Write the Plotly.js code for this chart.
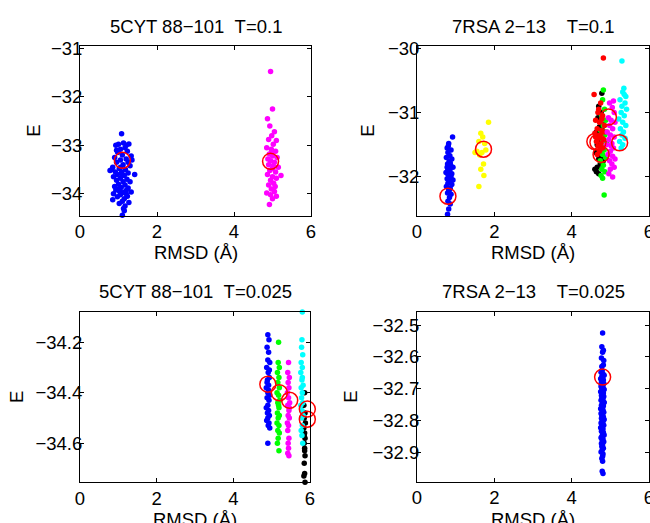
<!DOCTYPE html>
<html>
<head>
<meta charset="utf-8">
<script src="https://cdn.plot.ly/plotly-3.0.1.min.js"></script>
<style>html,body{margin:0;padding:0;background:#fff;}#chart{width:650px;height:523px;}</style>
</head>
<body>
<div id="chart"></div>
<script>
// ---------- data (RMSD, E) pairs ----------
const titles = ["5CYT 88\u2212101\u00A0\u00A0T=0.1", "7RSA 2\u221213\u00A0\u00A0\u00A0\u00A0T=0.1",
                "5CYT 88\u2212101\u00A0\u00A0T=0.025", "7RSA 2\u221213\u00A0\u00A0\u00A0\u00A0T=0.025"];
const xLabel = "RMSD (\u00C5)";
const yLabel = "E";
const xTicks = [0, 2, 4, 6];
const yTicksTL = [-34, -33, -32, -31];
const yTicksTR = [-32, -31, -30];
const yTicksBL = [-34.6, -34.4, -34.2];
const yTicksBR = [-32.9, -32.8, -32.7, -32.6, -32.5];

// Panel 1: 5CYT T=0.1
const tlBlue = [[1.08,-32.76],[1.0,-32.98],[1.13,-32.95],[1.27,-32.97],[0.93,-33.0],[1.17,-33.05],[1.05,-33.08],[1.23,-33.12],[0.98,-33.15],[1.1,-33.2],[1.33,-33.22],[0.9,-33.25],[1.2,-33.28],[1.05,-33.3],[0.95,-33.35],[1.25,-33.35],[1.12,-33.4],[0.85,-33.45],[1.3,-33.42],[1.02,-33.48],[1.18,-33.5],[0.78,-33.52],[0.92,-33.55],[1.08,-33.55],[1.25,-33.57],[1.42,-33.6],[0.97,-33.6],[1.15,-33.62],[0.87,-33.65],[1.05,-33.68],[1.22,-33.7],[0.95,-33.72],[1.12,-33.75],[1.3,-33.75],[1.0,-33.8],[1.17,-33.82],[0.9,-33.85],[1.07,-33.87],[1.25,-33.88],[0.93,-33.92],[1.2,-33.93],[1.03,-33.95],[1.13,-33.97],[1.33,-33.96],[0.87,-34.0],[1.05,-34.02],[1.23,-34.05],[0.97,-34.06],[1.15,-34.1],[0.85,-34.12],[1.1,-34.15],[1.27,-34.18],[1.17,-34.25],[1.02,-34.2],[1.13,-34.3],[1.15,-34.35],[1.1,-34.44],[1.35,-33.3],[0.83,-33.5],[1.2,-33.0],[0.95,-33.1],[1.1,-33.6],[1.0,-33.9],[1.2,-34.0],[1.05,-33.45]];
const tlMagenta = [[4.95,-31.48],[5.0,-32.25],[4.87,-32.45],[4.93,-32.6],[5.05,-32.72],[4.98,-32.8],[4.9,-32.88],[5.1,-32.9],[5.02,-32.98],[4.85,-33.05],[4.97,-33.08],[5.08,-33.12],[4.92,-33.18],[5.0,-33.22],[5.12,-33.25],[4.88,-33.28],[4.95,-33.32],[5.05,-33.35],[4.9,-33.4],[5.15,-33.45],[5.0,-33.48],[4.93,-33.52],[5.08,-33.55],[5.22,-33.62],[4.87,-33.6],[5.0,-33.65],[5.1,-33.68],[4.95,-33.72],[5.03,-33.78],[4.9,-33.82],[5.07,-33.85],[4.97,-33.9],[4.85,-33.98],[5.05,-33.95],[4.95,-34.02],[5.1,-34.05],[5.0,-34.1],[4.92,-34.22],[5.02,-33.42],[4.98,-33.15]];
const tlCircles = [[1.1,-33.31],[4.95,-33.33]];

// Panel 2: 7RSA T=0.1
const trBlue = [[0.92,-31.38],[0.82,-31.48],[0.78,-31.55],[0.88,-31.58],[0.8,-31.62],[0.85,-31.67],[0.76,-31.7],[0.9,-31.72],[0.83,-31.76],[0.79,-31.8],[0.87,-31.82],[0.93,-31.85],[0.8,-31.88],[0.85,-31.9],[0.75,-31.93],[0.9,-31.95],[0.82,-31.98],[0.88,-32.0],[0.78,-32.03],[0.93,-32.05],[0.84,-32.08],[0.8,-32.1],[0.9,-32.12],[0.76,-32.15],[0.86,-32.18],[0.82,-32.2],[0.79,-32.25],[0.88,-32.27],[0.84,-32.32],[0.8,-32.38],[0.86,-32.42],[0.82,-32.5],[0.79,-32.58],[0.84,-32.62],[0.81,-31.52],[0.86,-31.78],[0.8,-31.96],[0.87,-32.07],[0.83,-32.22],[0.78,-31.85]];
const trYellow = [[1.85,-31.15],[1.65,-31.32],[1.7,-31.38],[1.6,-31.45],[1.75,-31.48],[1.55,-31.6],[1.68,-31.62],[1.62,-31.66],[1.78,-31.58],[1.72,-31.8],[1.65,-31.88],[1.73,-31.98],[1.6,-32.15],[1.5,-31.62]];
const trBlack = [[4.78,-30.7],[4.7,-30.9],[4.76,-31.0],[4.68,-31.08],[4.8,-31.18],[4.72,-31.22],[4.64,-31.3],[4.82,-31.32],[4.7,-31.38],[4.75,-31.45],[4.66,-31.5],[4.8,-31.55],[4.72,-31.6],[4.62,-31.62],[4.76,-31.68],[4.7,-31.72],[4.82,-31.75],[4.74,-31.8],[4.66,-31.85],[4.6,-31.88],[4.64,-31.92],[4.7,-31.95],[4.68,-31.42],[4.78,-31.25]];
const trGreen = [[4.82,-30.65],[4.8,-30.8],[4.85,-30.95],[4.78,-31.05],[4.88,-31.12],[4.82,-31.2],[4.75,-31.28],[4.86,-31.35],[4.8,-31.42],[4.9,-31.48],[4.76,-31.52],[4.84,-31.58],[4.8,-31.65],[4.88,-31.7],[4.74,-31.75],[4.82,-31.82],[4.78,-31.88],[4.86,-31.92],[4.76,-31.98],[4.8,-32.02],[4.84,-32.28],[4.72,-31.62],[4.9,-31.3]];
const trRed = [[4.82,-30.15],[4.58,-30.72],[4.75,-30.85],[4.68,-31.0],[4.8,-31.05],[4.62,-31.12],[4.72,-31.15],[4.85,-31.2],[4.66,-31.25],[4.78,-31.28],[4.6,-31.32],[4.74,-31.35],[4.7,-31.4],[4.82,-31.42],[4.64,-31.45],[4.76,-31.48],[4.68,-31.52],[4.8,-31.55],[4.72,-31.6],[4.66,-31.65],[4.78,-31.1],[4.7,-30.95],[4.84,-31.3],[4.62,-31.38]];
const trMagenta = [[4.96,-29.93],[5.08,-30.82],[4.98,-30.85],[5.05,-30.92],[5.1,-31.0],[4.95,-31.08],[5.02,-31.12],[5.12,-31.15],[4.98,-31.2],[5.06,-31.25],[4.92,-31.3],[5.0,-31.35],[5.1,-31.38],[4.96,-31.42],[5.04,-31.48],[4.9,-31.5],[5.08,-31.55],[5.0,-31.6],[4.94,-31.65],[5.06,-31.68],[5.12,-31.72],[4.98,-31.75],[5.04,-31.8],[5.1,-31.85],[5.0,-31.88],[4.96,-31.95],[5.06,-32.0],[5.02,-31.52]];
const trCyan = [[5.3,-30.2],[5.35,-30.62],[5.32,-30.68],[5.4,-30.75],[5.25,-30.8],[5.38,-30.85],[5.3,-30.9],[5.42,-30.95],[5.28,-31.0],[5.36,-31.05],[5.22,-31.1],[5.32,-31.15],[5.4,-31.2],[5.26,-31.25],[5.34,-31.3],[5.3,-31.35],[5.38,-31.4],[5.24,-31.45],[5.32,-31.5],[5.28,-31.55],[5.36,-30.72]];
const trCircles = [[0.8,-32.3],[1.72,-31.57],[4.6,-31.45],[4.68,-31.46],[4.76,-31.65],[4.95,-31.07],[5.24,-31.47]];

// Panel 3: 5CYT T=0.025
const blBlue = [[4.9,-34.17],[4.93,-34.19],[4.88,-34.22],[4.92,-34.24],[4.9,-34.27],[4.95,-34.28],[4.87,-34.3],[4.91,-34.32],[4.94,-34.34],[4.89,-34.35],[4.92,-34.37],[4.86,-34.38],[4.9,-34.4],[4.95,-34.41],[4.88,-34.42],[4.93,-34.43],[4.9,-34.45],[4.86,-34.46],[4.92,-34.47],[4.89,-34.48],[4.94,-34.49],[4.9,-34.5],[4.87,-34.51],[4.93,-34.52],[4.91,-34.53],[4.95,-34.54],[4.9,-34.6],[4.92,-34.39],[4.88,-34.36],[4.94,-34.31]];
const blGreen = [[5.18,-34.2],[5.17,-34.28],[5.2,-34.3],[5.15,-34.32],[5.19,-34.34],[5.16,-34.36],[5.2,-34.38],[5.14,-34.4],[5.18,-34.41],[5.21,-34.43],[5.16,-34.44],[5.19,-34.46],[5.15,-34.48],[5.2,-34.49],[5.17,-34.5],[5.14,-34.52],[5.19,-34.53],[5.16,-34.55],[5.2,-34.56],[5.17,-34.58],[5.15,-34.6],[5.19,-34.63],[5.18,-34.45]];
const blMagenta = [[5.44,-34.28],[5.42,-34.32],[5.46,-34.34],[5.43,-34.36],[5.45,-34.38],[5.41,-34.4],[5.44,-34.42],[5.47,-34.44],[5.42,-34.45],[5.45,-34.47],[5.43,-34.49],[5.46,-34.5],[5.41,-34.52],[5.44,-34.53],[5.42,-34.55],[5.45,-34.58],[5.43,-34.6],[5.44,-34.62],[5.42,-34.64],[5.45,-34.65],[5.46,-34.46]];
const blBlack = [[5.86,-34.4],[5.84,-34.45],[5.87,-34.48],[5.85,-34.5],[5.88,-34.52],[5.84,-34.54],[5.86,-34.56],[5.87,-34.58],[5.85,-34.6],[5.86,-34.63],[5.87,-34.65],[5.85,-34.68],[5.86,-34.72],[5.84,-34.73],[5.87,-34.755],[5.86,-34.62],[5.85,-34.57]];
const blCyan = [[5.8,-34.08],[5.79,-34.19],[5.78,-34.22],[5.81,-34.25],[5.77,-34.28],[5.8,-34.3],[5.76,-34.32],[5.79,-34.35],[5.82,-34.37],[5.77,-34.38],[5.8,-34.4],[5.78,-34.42],[5.81,-34.44],[5.76,-34.45],[5.79,-34.47],[5.82,-34.49],[5.78,-34.5],[5.8,-34.53],[5.77,-34.55],[5.79,-34.57],[5.81,-34.6],[5.8,-34.34]];
const blCircles = [[4.9,-34.366],[5.2,-34.4],[5.47,-34.43],[5.93,-34.465],[5.93,-34.505]];

// Panel 4: 7RSA T=0.025
const brBlue = [[4.8,-32.525],[4.78,-32.568],[4.82,-32.579],[4.8,-32.585],[4.77,-32.603],[4.83,-32.611],[4.79,-32.642],[4.76,-32.648],[4.81,-32.653],[4.84,-32.657],[4.78,-32.661],[4.8,-32.664],[4.75,-32.668],[4.82,-32.672],[4.79,-32.676],[4.77,-32.679],[4.83,-32.683],[4.8,-32.687],[4.76,-32.691],[4.81,-32.694],[4.78,-32.698],[4.84,-32.702],[4.79,-32.706],[4.75,-32.709],[4.82,-32.713],[4.8,-32.717],[4.77,-32.721],[4.83,-32.724],[4.78,-32.728],[4.81,-32.732],[4.76,-32.736],[4.79,-32.739],[4.84,-32.743],[4.8,-32.747],[4.77,-32.751],[4.82,-32.754],[4.78,-32.758],[4.75,-32.762],[4.81,-32.766],[4.79,-32.769],[4.83,-32.773],[4.76,-32.777],[4.8,-32.781],[4.78,-32.784],[4.82,-32.788],[4.77,-32.792],[4.84,-32.796],[4.79,-32.799],[4.81,-32.803],[4.76,-32.807],[4.8,-32.811],[4.83,-32.814],[4.78,-32.818],[4.75,-32.822],[4.81,-32.826],[4.79,-32.829],[4.77,-32.833],[4.82,-32.837],[4.8,-32.841],[4.84,-32.845],[4.78,-32.849],[4.76,-32.853],[4.81,-32.857],[4.79,-32.861],[4.83,-32.866],[4.77,-32.871],[4.8,-32.876],[4.78,-32.881],[4.82,-32.886],[4.79,-32.892],[4.76,-32.898],[4.81,-32.904],[4.8,-32.911],[4.78,-32.918],[4.8,-32.927],[4.79,-32.958],[4.81,-32.965],[4.83,-32.742],[4.77,-32.695],[4.79,-32.815],[4.82,-32.625],[4.78,-32.63]];
const brCircles = [[4.8,-32.663]];

// ---------- geometry ----------
const W = 650, H = 523;
const px = v => v / W;
const py = v => 1 - v / H;
const FONT = "Liberation Sans, Arial, Helvetica, sans-serif";
const FS = 18.5;

const panels = [
  {ax: "", xdom: [80, 311], ydom: [46, 215.5], yr: [-34.446, -30.953], yt: yTicksTL, ylx: 34,
   sets: [[tlBlue, "#0000ff"], [tlMagenta, "#ff00ff"]], circ: tlCircles},
  {ax: "2", xdom: [417, 649], ydom: [46, 215.5], yr: [-32.6, -29.965], yt: yTicksTR, ylx: 368,
   sets: [[trBlue, "#0000ff"], [trYellow, "#ffff00"], [trBlack, "#000000"], [trGreen, "#00ff00"], [trRed, "#ff0000"], [trMagenta, "#ff00ff"], [trCyan, "#00ffff"]], circ: trCircles},
  {ax: "3", xdom: [80, 310], ydom: [311.7, 482.3], yr: [-34.755, -34.079], yt: yTicksBL, ylx: 16,
   sets: [[blBlue, "#0000ff"], [blGreen, "#00ff00"], [blMagenta, "#ff00ff"], [blBlack, "#000000"], [blCyan, "#00ffff"]], circ: blCircles},
  {ax: "4", xdom: [417, 649], ydom: [311.7, 482], yr: [-32.992, -32.458], yt: yTicksBR, ylx: 351,
   sets: [[brBlue, "#0000ff"]], circ: brCircles}
];

const traces = [];
const layout = {
  width: W, height: H,
  margin: {l: 0, r: 0, t: 0, b: 0},
  paper_bgcolor: "#ffffff", plot_bgcolor: "#ffffff",
  showlegend: false,
  font: {family: FONT, size: FS, color: "#000"},
  annotations: []
};

panels.forEach((p, i) => {
  const xa = "x" + p.ax, ya = "y" + p.ax;
  p.sets.forEach(([pts, col]) => {
    traces.push({type: "scatter", mode: "markers", xaxis: xa, yaxis: ya, cliponaxis: false,
      x: pts.map(d => d[0]), y: pts.map(d => d[1]),
      marker: {size: 5.5, color: col, line: {width: 0}}, hoverinfo: "x+y"});
  });
  traces.push({type: "scatter", mode: "markers", xaxis: xa, yaxis: ya, cliponaxis: false,
    x: p.circ.map(d => d[0]), y: p.circ.map(d => d[1]),
    marker: {symbol: "circle-open", size: 16, color: "#ff0000", line: {width: 1.5, color: "#ff0000"}}});

  const common = {showgrid: false, zeroline: false, showline: true, linecolor: "#000", linewidth: 1,
    mirror: "allticks", ticks: "inside", ticklen: 4, tickwidth: 1, tickcolor: "#000",
    ticklabeloverflow: "allow",
    tickfont: {family: FONT, size: FS, color: "#000"}, fixedrange: true};
  layout["xaxis" + p.ax] = Object.assign({}, common, {
    domain: [px(p.xdom[0]), px(p.xdom[1])], range: [0, 6], tickvals: xTicks,
    anchor: ya, ticklabelstandoff: -1});
  layout["yaxis" + p.ax] = Object.assign({}, common, {
    domain: [py(p.ydom[1]), py(p.ydom[0])], range: p.yr, tickvals: p.yt,
    anchor: xa, ticklabelstandoff: -7});

  const cx = (p.xdom[0] + p.xdom[1]) / 2;
  const cy = (p.ydom[0] + p.ydom[1]) / 2;
  layout.annotations.push({text: titles[i], xref: "paper", yref: "paper", x: px(cx), y: py(p.ydom[0] - 20),
    xanchor: "center", yanchor: "middle", showarrow: false, font: {family: FONT, size: FS, color: "#000"}});
  layout.annotations.push({text: xLabel, xref: "paper", yref: "paper", x: px(cx), y: py(p.ydom[1] + 37),
    xanchor: "center", yanchor: "middle", showarrow: false, font: {family: FONT, size: FS, color: "#000"}});
  layout.annotations.push({text: yLabel, xref: "paper", yref: "paper", x: px(p.ylx), y: py(cy),
    xanchor: "center", yanchor: "middle", textangle: -90, showarrow: false, font: {family: FONT, size: FS, color: "#000"}});
});

Plotly.newPlot("chart", traces, layout, {staticPlot: true, displayModeBar: false});
</script>
</body>
</html>
